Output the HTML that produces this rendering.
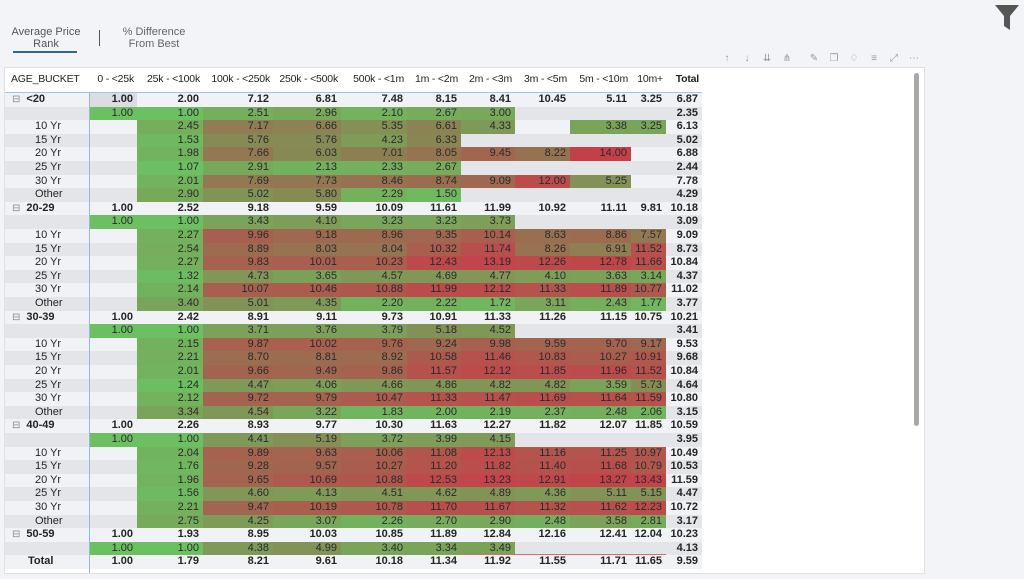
<!DOCTYPE html>
<html><head><meta charset="utf-8">
<style>
body{margin:0;width:1024px;height:579px;background:#f3f4f8;font-family:"Liberation Sans",Arial,sans-serif;position:relative;overflow:hidden;color:#252423}
.abs{position:absolute}
.c{position:absolute;font-size:11px;line-height:13.6px;text-align:right;box-sizing:border-box;padding-right:4px;white-space:nowrap}
.h{position:absolute;font-size:10.5px;letter-spacing:-0.2px;white-space:nowrap;top:73px}
.tb{position:absolute;top:52px;width:14px;height:14px;color:#999;font-size:10px;text-align:center;line-height:14px}
</style></head><body>
<div class="abs" style="left:5px;top:26px;width:82px;text-align:center;font-size:11px;line-height:12px;color:#555;white-space:nowrap">Average Price<br>Rank</div>
<div class="abs" style="left:13px;top:51px;width:64px;height:2px;background:#2c6a8f"></div>
<div class="abs" style="left:99px;top:30px;width:1px;height:16px;background:#555"></div>
<div class="abs" style="left:114px;top:26px;width:80px;text-align:center;font-size:11px;line-height:12px;color:#666;white-space:nowrap">% Difference<br>From Best</div>
<svg class="abs" style="left:994px;top:4px" width="26" height="27" viewBox="0 0 26 27"><path d="M1 1H25L16 12V26L10 22V12Z" fill="#555"/></svg>
<div id="tools"></div>
<div class="abs" style="left:4px;top:67px;width:921px;height:507px;background:#fff;border:1px solid #e1e1e1;box-sizing:border-box"></div>
<div class="abs" style="left:914px;top:73px;width:5px;height:353px;background:#a8a8a8;border-radius:3px"></div>
<div id="m"></div>
<script>
const columns=["0 - <25k","25k - <100k","100k - <250k","250k - <500k","500k - <1m","1m - <2m","2m - <3m","3m - <5m","5m - <10m","10m+","Total"];
const rowLabels=["<20","","10 Yr","15 Yr","20 Yr","25 Yr","30 Yr","Other","20-29","","10 Yr","15 Yr","20 Yr","25 Yr","30 Yr","Other","30-39","","10 Yr","15 Yr","20 Yr","25 Yr","30 Yr","Other","40-49","","10 Yr","15 Yr","20 Yr","25 Yr","30 Yr","Other","50-59","","Total"];
const rowKinds=["g","s","s","s","s","s","s","s","g","s","s","s","s","s","s","s","g","s","s","s","s","s","s","s","g","s","s","s","s","s","s","s","g","s","t"];
const _=null;
const values=[
[1.00,2.00,7.12,6.81,7.48,8.15,8.41,10.45,5.11,3.25,6.87],
[1.00,1.00,2.51,2.96,2.10,2.67,3.00,_,_,_,2.35],
[_,2.45,7.17,6.66,5.35,6.61,4.33,_,3.38,3.25,6.13],
[_,1.53,5.76,5.76,4.23,6.33,_,_,_,_,5.02],
[_,1.98,7.66,6.03,7.01,8.05,9.45,8.22,14.00,_,6.88],
[_,1.07,2.91,2.13,2.33,2.67,_,_,_,_,2.44],
[_,2.01,7.69,7.73,8.46,8.74,9.09,12.00,5.25,_,7.78],
[_,2.90,5.02,5.80,2.29,1.50,_,_,_,_,4.29],
[1.00,2.52,9.18,9.59,10.09,11.61,11.99,10.92,11.11,9.81,10.18],
[1.00,1.00,3.43,4.10,3.23,3.23,3.73,_,_,_,3.09],
[_,2.27,9.96,9.18,8.96,9.35,10.14,8.63,8.86,7.57,9.09],
[_,2.54,8.89,8.03,8.04,10.32,11.74,8.26,6.91,11.52,8.73],
[_,2.27,9.83,10.01,10.23,12.43,13.19,12.26,12.78,11.66,10.84],
[_,1.32,4.73,3.65,4.57,4.69,4.77,4.10,3.63,3.14,4.37],
[_,2.14,10.07,10.46,10.88,11.99,12.12,11.33,11.89,10.77,11.02],
[_,3.40,5.01,4.35,2.20,2.22,1.72,3.11,2.43,1.77,3.77],
[1.00,2.42,8.91,9.11,9.73,10.91,11.33,11.26,11.15,10.75,10.21],
[1.00,1.00,3.71,3.76,3.79,5.18,4.52,_,_,_,3.41],
[_,2.15,9.87,10.02,9.76,9.24,9.98,9.59,9.70,9.17,9.53],
[_,2.21,8.70,8.81,8.92,10.58,11.46,10.83,10.27,10.91,9.68],
[_,2.01,9.66,9.49,9.86,11.57,12.12,11.85,11.96,11.52,10.84],
[_,1.24,4.47,4.06,4.66,4.86,4.82,4.82,3.59,5.73,4.64],
[_,2.12,9.72,9.79,10.47,11.33,11.47,11.69,11.64,11.59,10.80],
[_,3.34,4.54,3.22,1.83,2.00,2.19,2.37,2.48,2.06,3.15],
[1.00,2.26,8.93,9.77,10.30,11.63,12.27,11.82,12.07,11.85,10.59],
[1.00,1.00,4.41,5.19,3.72,3.99,4.15,_,_,_,3.95],
[_,2.04,9.89,9.63,10.06,11.08,12.13,11.16,11.25,10.97,10.49],
[_,1.76,9.28,9.57,10.27,11.20,11.82,11.40,11.68,10.79,10.53],
[_,1.96,9.65,10.69,10.88,12.53,13.23,12.91,13.27,13.43,11.59],
[_,1.56,4.60,4.13,4.51,4.62,4.89,4.36,5.11,5.15,4.47],
[_,2.21,9.47,10.19,10.78,11.70,11.67,11.32,11.62,12.23,10.72],
[_,2.75,4.25,3.07,2.26,2.70,2.90,2.48,3.58,2.81,3.17],
[1.00,1.93,8.95,10.03,10.85,11.89,12.84,12.16,12.41,12.04,10.23],
[1.00,1.00,4.38,4.99,3.40,3.34,3.49,_,_,_,4.13],
[1.00,1.79,8.21,9.61,10.18,11.34,11.92,11.55,11.71,11.65,9.59]];
const colEdges=[89,137,203,273,341,407,461,515,570,631,666,702];
const top0=93,rh=13.6;
const stops=[[1,[108,192,98]],[3,[120,168,90]],[6,[135,137,85]],[9,[157,106,80]],[12,[188,76,76]],[14,[196,64,72]]];
function colorFor(v){
 for(let i=1;i<stops.length;i++){ if(v<=stops[i][0]){const a=stops[i-1],b=stops[i];const t=Math.max(0,(v-a[0])/(b[0]-a[0]));return 'rgb('+a[1].map((x,k)=>Math.round(x+(b[1][k]-x)*t)).join(',')+')';}}
 return 'rgb(196,64,72)';
}
const m=document.getElementById('m');
function add(el){m.appendChild(el);return el;}
let hl=document.createElement('div');hl.className='h';hl.style.left='11px';hl.textContent='AGE_BUCKET';


add(hl);
columns.forEach((c,i)=>{
 const d=document.createElement('div');d.className='h';
 d.style.left=(colEdges[i]-10)+'px';d.style.width=(colEdges[i+1]-colEdges[i]+10)+'px';d.style.textAlign='right';d.style.paddingRight='3px';d.style.boxSizing='border-box';
 if(c==='Total')d.style.fontWeight='bold';
 d.textContent=c;
 
 
 add(d);
});
const hline=document.createElement('div');hline.className='abs';hline.style.cssText='left:5px;top:92px;width:697px;height:1px;background:#9cc3ea';


add(hline);
rowLabels.forEach((lab,r)=>{
 const y=top0+r*rh, kind=rowKinds[r];
 let bg = kind==='g'||kind==='t' ? '#f0f2f6' : (r%8===1||r%8===3||r%8===5||r%8===7 ? '#e3e5e8' : '#f0f2f6');
 const rb=document.createElement('div');rb.className='abs';rb.style.cssText=`left:5px;top:${y}px;width:697px;height:${rh}px;background:${bg}`;
 
 
 add(rb);
 const l=document.createElement('div');l.className='c';l.style.textAlign='left';
 l.style.top=y+'px';
 if(kind==='g'){l.style.left='12px';l.style.fontWeight='bold';l.innerHTML='<span style="font-weight:normal;color:#888;font-size:10px;margin-right:6px">⊟</span>'+lab;}
 else if(kind==='t'){l.style.left='28px';l.style.fontWeight='bold';l.textContent=lab;}
 else{l.style.left='35px';l.textContent=lab;}
 
 
 add(l);
 values[r].forEach((v,ci)=>{
  if(v===null)return;
  const d=document.createElement('div');d.className='c';
  d.style.left=colEdges[ci]+'px';d.style.top=y+'px';d.style.width=(colEdges[ci+1]-colEdges[ci])+'px';d.style.height=rh+'px';
  if(kind==='s'&&ci<10){d.style.background=colorFor(v);d.style.color='#2a2a2a';}
  if(kind==='g'&&r===0&&ci===0)d.style.background='#dcdde0';
  if(kind!=='s'||ci===10)d.style.fontWeight='bold';
  d.textContent=v.toFixed(2);
  
  
  add(d);
 });
});
const vl=document.createElement('div');vl.className='abs';vl.style.cssText='left:89px;top:93px;width:1px;height:480px;background:#8fbbe6';


add(vl);
const tl=document.createElement('div');tl.className='abs';tl.style.cssText=`left:461px;top:${top0+34*rh-1}px;width:205px;height:1px;background:#d07070`;


add(tl);
const icons=["↑","↓","⇊","⋔","✎","❐","♢","≡","⤢","⋯"];
const iconX=[720,740,760,780,807,827,847,867,887,907];
const tools=document.getElementById('tools');
icons.forEach((ic,i)=>{
 const t=document.createElement('div');t.className='tb';t.style.left=iconX[i]+'px';t.textContent=ic;
 
 
 tools.appendChild(t);
});
</script>
</body></html>
